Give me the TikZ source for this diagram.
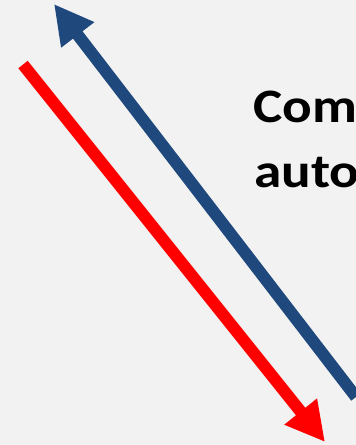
\documentclass[tikz,border=0pt]{standalone}
\usepackage{fontspec}
\setmainfont{Carlito}
\usetikzlibrary{arrows.meta}
\definecolor{bg}{HTML}{F2F2F2}
\definecolor{myblue}{HTML}{1F497D}
\definecolor{myred}{HTML}{FF0000}
\begin{document}
\begin{tikzpicture}[x=1pt,y=-1pt,
  bigarrow/.style={line width=12pt,-{Triangle[length=39pt,width=39pt]}},
  label/.style={anchor=base west,inner sep=0pt,xscale=1.15,font=\fontsize{48}{58}\selectfont\bfseries}]
\path[use as bounding box,fill=bg] (0,0) rectangle (356,445);
\clip (0,0) rectangle (356,445);
\coordinate (bs) at (356,397);
\coordinate (bt) at (54,4);
\coordinate (rs) at (23,64.5);
\coordinate (rt) at (325,442);
\draw[bigarrow,myblue] (bs) -- (bt);
\draw[bigarrow,myred] (rs) -- (rt);
\node[label] (t1) at (253,122.5) {Com};
\node[label] (t2) at (254,187) {auto};
\end{tikzpicture}
\end{document}
